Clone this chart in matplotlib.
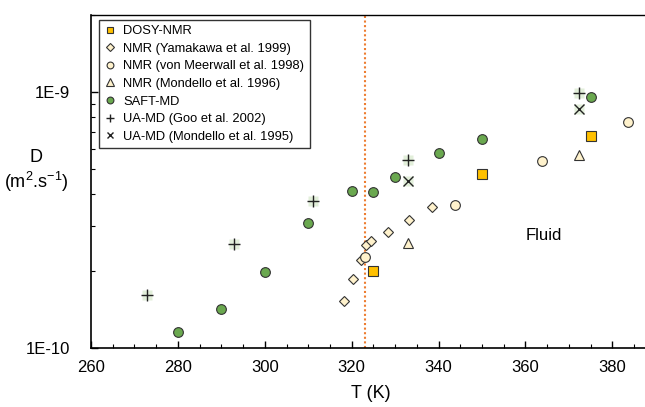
import numpy as np
import matplotlib
matplotlib.use("Agg")
import matplotlib.pyplot as plt
from matplotlib.ticker import LogLocator, NullFormatter, FixedLocator, MultipleLocator

plt.rcParams['font.family'] = ['Liberation Sans', 'DejaVu Sans']
plt.rcParams['mathtext.fontset'] = 'custom'
plt.rcParams['mathtext.rm'] = 'Liberation Sans'
plt.rcParams['mathtext.it'] = 'Liberation Sans:italic'

# diffusion coefficients D (m2/s) vs temperature T (K)
dosy_T = [325, 350, 375]
dosy_D = [2.0e-10, 4.8e-10, 6.75e-10]

yama_T = [318.2, 320.2, 322.1, 323.2, 324.4, 328.3, 333.3, 338.4]
yama_D = [1.53e-10, 1.86e-10, 2.21e-10, 2.53e-10, 2.61e-10, 2.83e-10, 3.15e-10, 3.54e-10]

meer_T = [323.1, 343.8, 363.7, 383.7]
meer_D = [2.26e-10, 3.62e-10, 5.39e-10, 7.66e-10]

mond_T = [333, 372.3]
mond_D = [2.58e-10, 5.67e-10]

saft_T = [280, 290, 300, 310, 320, 325, 330, 340, 350, 375]
saft_D = [1.16e-10, 1.42e-10, 1.99e-10, 3.07e-10, 4.1e-10, 4.06e-10, 4.64e-10, 5.78e-10, 6.57e-10, 9.59e-10]

goo_T = [273, 293, 311, 333, 372.3]
goo_D = [1.61e-10, 2.55e-10, 3.75e-10, 5.42e-10, 9.88e-10]

uamond_T = [333, 372.3]
uamond_D = [4.5e-10, 8.56e-10]

T_melt = 323

fig = plt.figure(figsize=(6.45, 4.07), dpi=100)
ax = fig.add_axes([91/645, 1 - 348/407, (645 - 91)/645 + 0.01, (348 - 15)/407])

ax.axvline(T_melt, color='#ED7D31', ls=(0, (1, 1.2)), lw=1.5, zorder=1)

edge = '#333333'
ax.plot(dosy_T, dosy_D, 's', ms=7, mfc='#FFC000', mec=edge, mew=0.8, ls='none', label='DOSY-NMR', zorder=3)
ax.plot(yama_T, yama_D, 'D', ms=5.5, mfc='#FFF2CC', mec=edge, mew=0.8, ls='none', label='NMR (Yamakawa et al. 1999)', zorder=3)
ax.plot(meer_T, meer_D, 'o', ms=7, mfc='#FFF2CC', mec=edge, mew=0.8, ls='none', label='NMR (von Meerwall et al. 1998)', zorder=3)
ax.plot(mond_T, mond_D, '^', ms=7.5, mfc='#FFF2CC', mec=edge, mew=0.8, ls='none', label='NMR (Mondello et al. 1996)', zorder=3)
ax.plot(saft_T, saft_D, 'o', ms=7, mfc='#6AA84F', mec=edge, mew=0.8, ls='none', label='SAFT-MD', zorder=3)
# light green square behind the + and x symbols
ax.plot(goo_T, goo_D, 's', ms=7.5, mfc='#E2EFDA', mec='none', ls='none', zorder=2)
ax.plot(uamond_T, uamond_D, 's', ms=7.5, mfc='#E2EFDA', mec='none', ls='none', zorder=2)
ax.plot(goo_T, goo_D, '+', ms=8.5, mec='#222222', mew=1.0, ls='none', label='UA-MD (Goo et al. 2002)', zorder=3)
ax.plot(uamond_T, uamond_D, 'x', ms=7, mec='#222222', mew=1.0, ls='none', label='UA-MD (Mondello et al. 1995)', zorder=3)

ax.text(364.2, 2.76e-10, 'Fluid', fontsize=12, ha='center', va='center')

ax.set_yscale('log')
ax.set_xlim(260, 389)
ax.set_ylim(1e-10, 2e-9)
ax.xaxis.set_major_locator(MultipleLocator(20))
ax.xaxis.set_minor_locator(MultipleLocator(5))
ax.yaxis.set_major_locator(FixedLocator([1e-10, 1e-9]))
ax.yaxis.set_minor_locator(LogLocator(base=10, subs=np.arange(2, 10)))
ax.yaxis.set_minor_formatter(NullFormatter())
ax.set_yticklabels(['1E-10', '1E-9'])
ax.tick_params(axis='both', which='major', direction='in', length=5, width=1, labelsize=12, pad=9)
ax.tick_params(axis='both', which='minor', direction='in', length=3, width=0.8)
ax.tick_params(axis='y', pad=15)
ax.spines['right'].set_visible(False)
ax.spines['left'].set_linewidth(1.2)
ax.spines['bottom'].set_linewidth(1.2)
ax.spines['top'].set_linewidth(1.0)

ax.set_xlabel('T (K)', fontsize=13, labelpad=7)
fig.text(36/645, 1 - 158/407, 'D', fontsize=13, ha='center', va='center')
fig.text(36/645, 1 - 182/407, '(m$^{2}$.s$^{-1}$)', fontsize=13, ha='center', va='center')

leg = ax.legend(loc='upper left', bbox_to_anchor=(0.014, 0.985), borderaxespad=0, fontsize=9.3,
                frameon=True, fancybox=False, edgecolor='#333333', framealpha=1, handlelength=0.9,
                handletextpad=0.6, labelspacing=0.43, borderpad=0.4, markerscale=0.7)
leg.get_frame().set_linewidth(1.0)

fig.savefig('out.png', dpi=100)
